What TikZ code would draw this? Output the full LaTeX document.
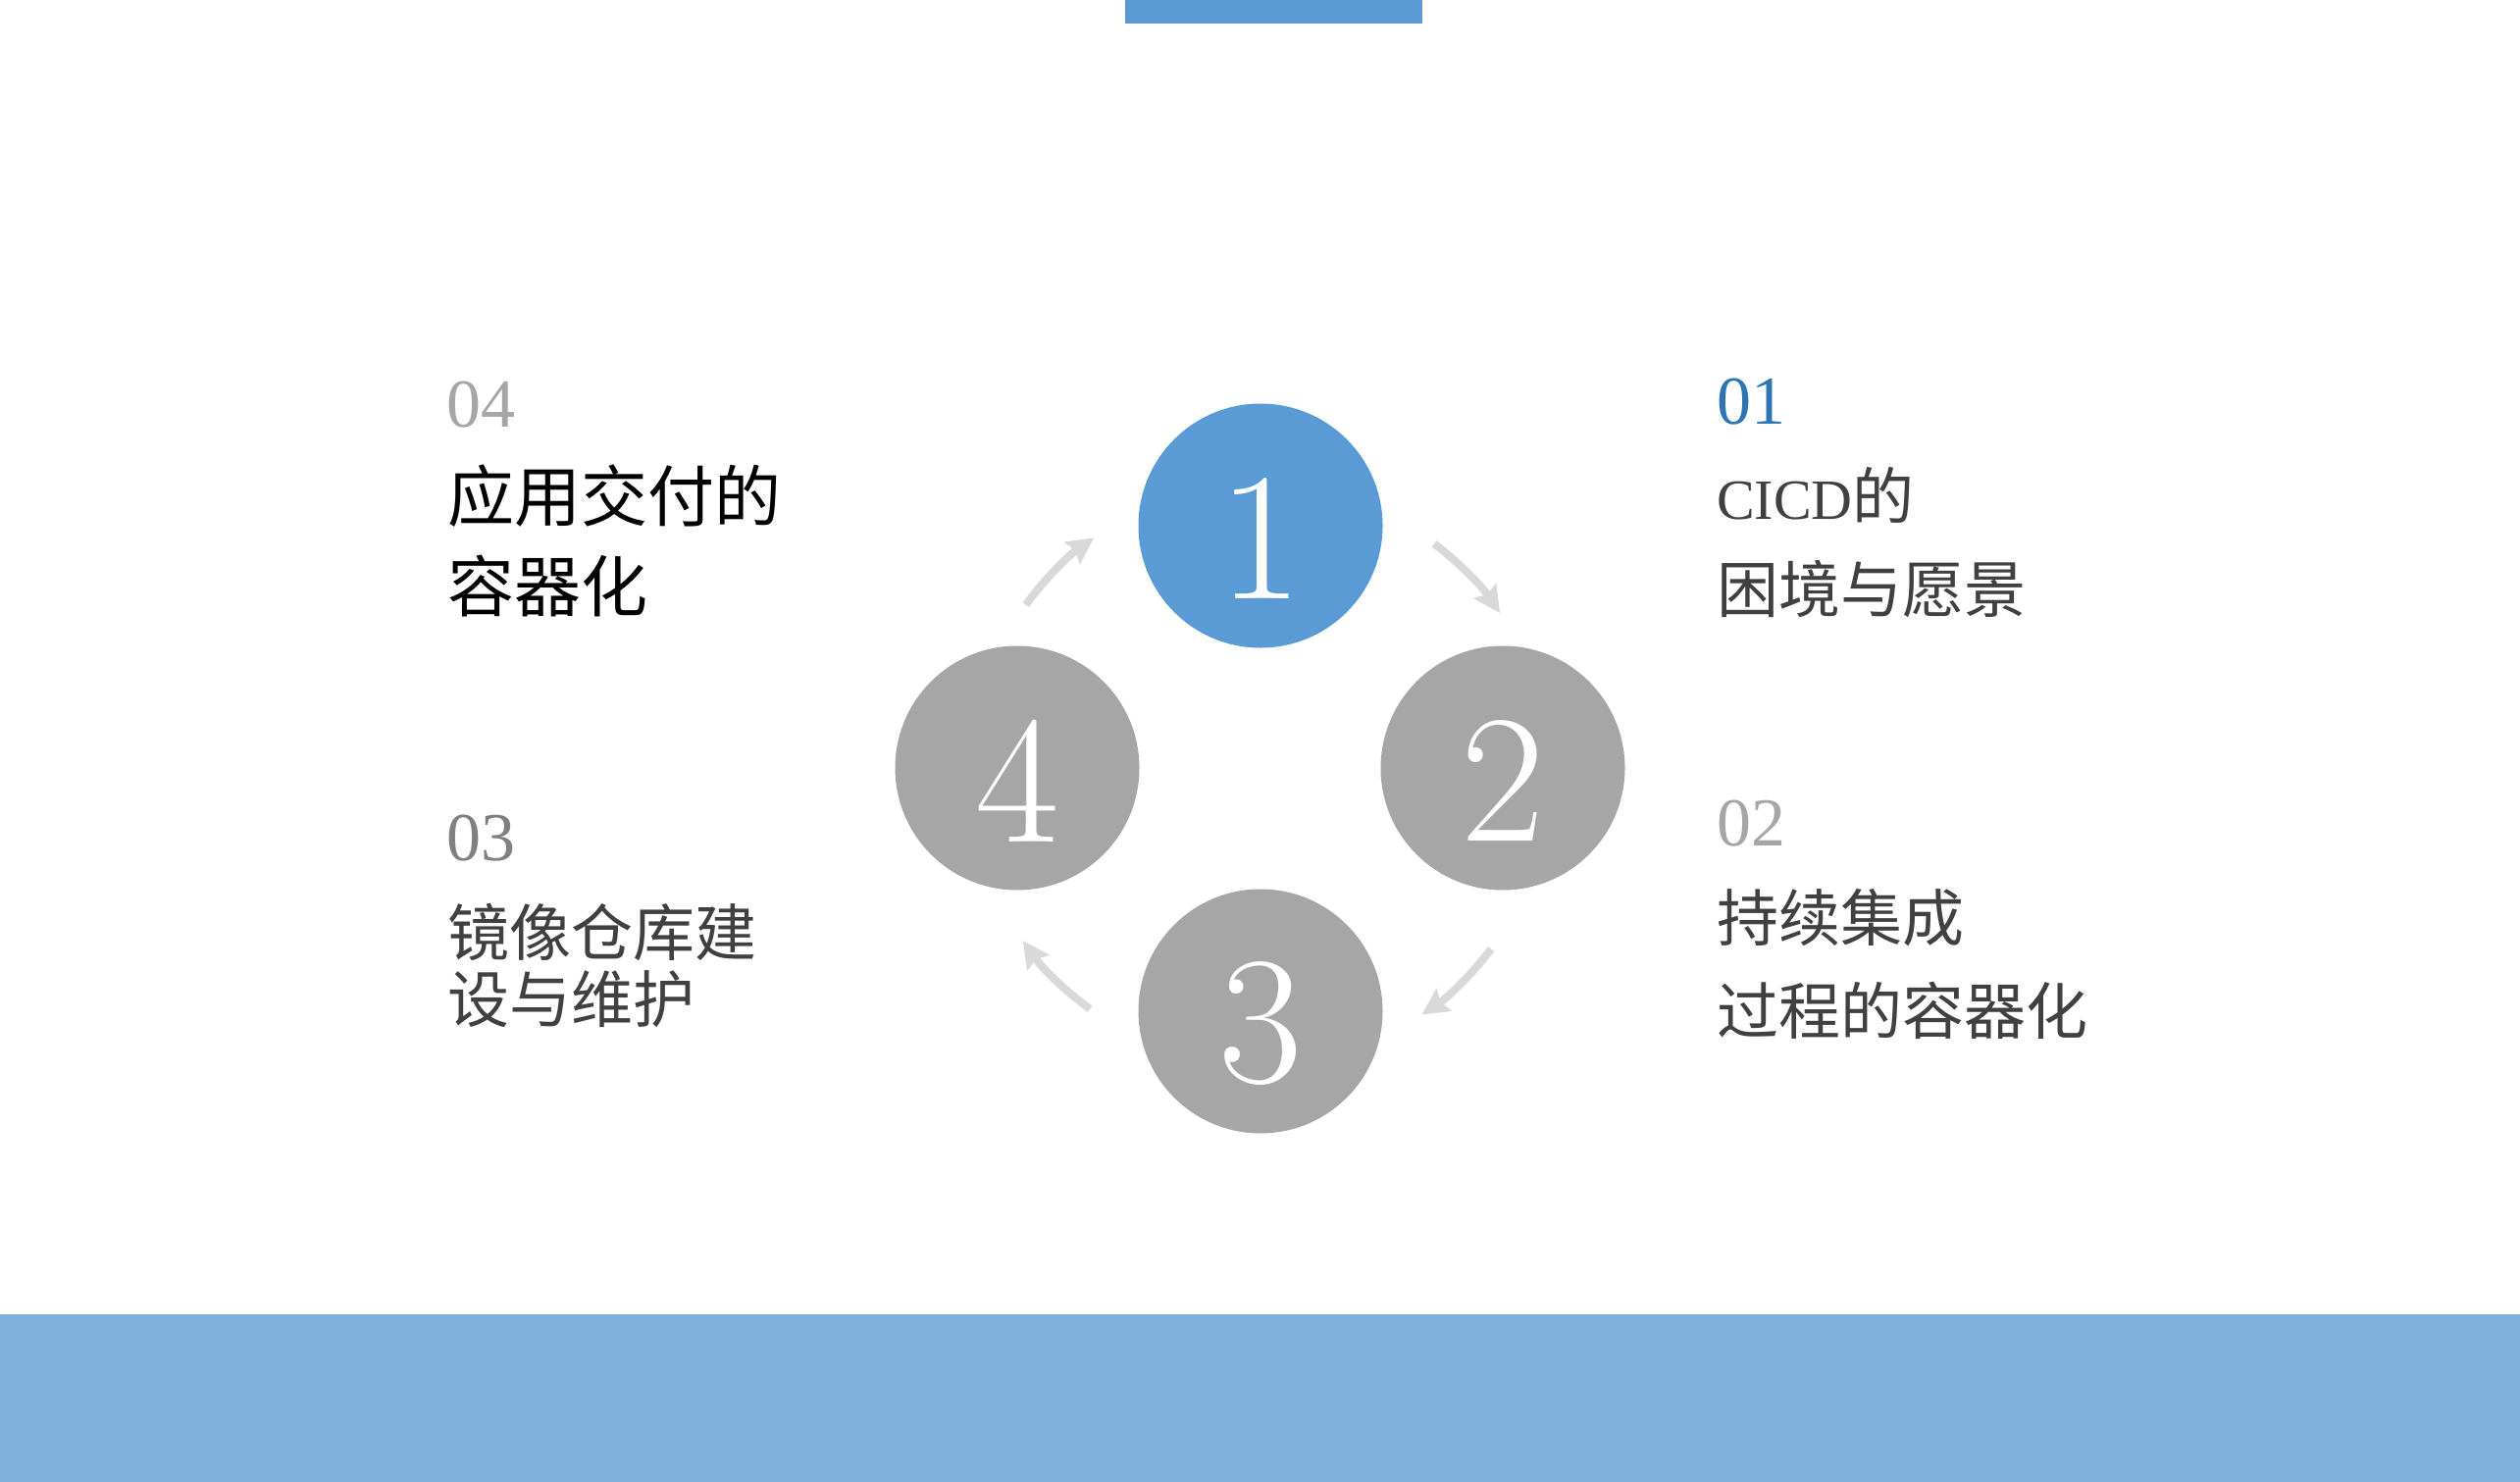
\documentclass[tikz,border=0pt]{standalone}
\usepackage{fontspec}
\newfontfamily\cjk{Noto Sans CJK SC}
\newfontfamily\numf{Liberation Serif}
\usetikzlibrary{arrows.meta}
\definecolor{barblue}{HTML}{5B9BD5}
\definecolor{bandblue}{HTML}{7FB0DC}
\definecolor{circgray}{HTML}{A6A6A6}
\definecolor{arrgray}{HTML}{D9D9D9}
\definecolor{numblue}{HTML}{2E75B6}
\definecolor{txtgray}{HTML}{404040}
\definecolor{numgray}{HTML}{A6A6A6}
\definecolor{numdark}{HTML}{808080}
\begin{document}
\begin{tikzpicture}[x=1pt,y=1pt,
  stepcirc/.style={circle, fill=circgray, minimum size=249pt, inner sep=0pt},
  digit/.style={text=white, font=\fontsize{186}{186}\selectfont, inner sep=0pt, anchor=center},
  cyc/.style={draw=arrgray, line width=8pt, -{Stealth[length=27pt,width=27pt,inset=4pt]}},
  numlbl/.style={anchor=base west, inner sep=0pt, font=\numf\fontsize{70}{70}\selectfont},
  cjklbl/.style={anchor=base west, inner sep=0pt, text=txtgray, font=\cjk\fontsize{63}{63}\selectfont},
]
\useasboundingbox (0,0) rectangle (2569,-1511);
\fill[white] (0,0) rectangle (2569,-1511);
% bars
\fill[barblue] (1147,0) rectangle (1450,-24);
\fill[bandblue] (0,-1340) rectangle (2569,-1511);
% circles
\node[stepcirc, fill=barblue] (c1) at (1285,-536) {};
\node[stepcirc] (c2) at (1532,-783) {};
\node[stepcirc] (c3) at (1285,-1031) {};
\node[stepcirc] (c4) at (1037,-783) {};
\node[digit] (d1) at ([yshift=-13pt]c1.center) {1};
\node[digit] (d2) at ([yshift=-13pt]c2.center) {2};
\node[digit] (d3) at ([yshift=-13pt]c3.center) {3};
\node[digit] (d4) at ([yshift=-13pt]c4.center) {4};
% cycle arrows
\coordinate (ring) at (1284.5,-790);
\draw[cyc] ([shift={(53:295)}]ring) arc[start angle=53, end angle=34, radius=295];
\draw[cyc] ([shift={(-37:295)}]ring) arc[start angle=-37, end angle=-56, radius=295];
\draw[cyc] ([shift={(-126:295)}]ring) arc[start angle=-126, end angle=-145, radius=295];
\draw[cyc] ([shift={(144:295)}]ring) arc[start angle=144, end angle=125, radius=295];
% labels 01
\node[numlbl, text=numblue] (n1) at (1750,-432) {01};
\node[cjklbl] (t1a) at (1750,-529) {{\numf\fontsize{58}{58}\selectfont CICD}的};
\node[cjklbl] (t1b) at (1750,-624) {困境与愿景};
% labels 02
\node[numlbl, text=numgray] (n2) at (1750,-862) {02};
\node[cjklbl] (t2a) at (1750,-959) {持续集成};
\node[cjklbl] (t2b) at (1750,-1054) {过程的容器化};
% labels 03
\node[numlbl, text=numdark] (n3) at (455,-877) {03};
\node[cjklbl] (t3a) at (456,-974) {镜像仓库建};
\node[cjklbl] (t3b) at (456,-1042) {设与维护};
% labels 04
\node[numlbl, text=numgray] (n4) at (455,-435) {04};
\node[cjklbl, text=black, font=\cjk\fontsize{68}{68}\selectfont] (t4a) at (456,-531) {应用交付的};
\node[cjklbl, text=black, font=\cjk\fontsize{68}{68}\selectfont] (t4b) at (456,-623) {容器化};
\end{tikzpicture}
\end{document}
